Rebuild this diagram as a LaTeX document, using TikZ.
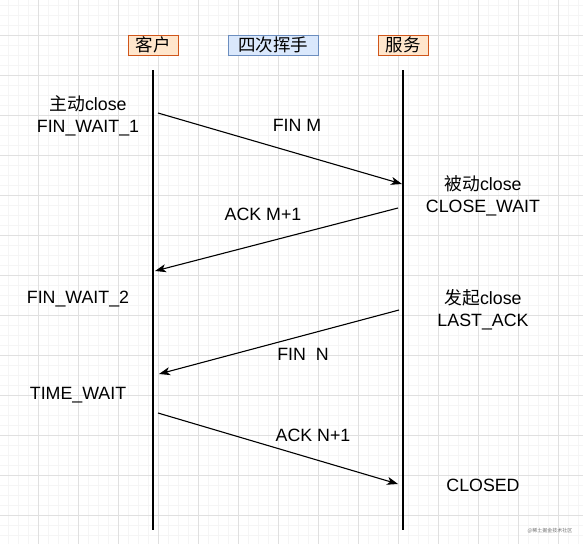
\documentclass[tikz,border=0pt]{standalone}
\usepackage{fontspec}
\setmainfont{Liberation Sans}
\newfontfamily\cjk{Noto Sans CJK SC}
\usetikzlibrary{arrows.meta}
\definecolor{gridmajor}{HTML}{E0E0E0}
\definecolor{gridminor}{HTML}{F5F5F5}
\definecolor{orfill}{HTML}{FFE6CC}
\definecolor{ordraw}{HTML}{D0561B}
\definecolor{blfill}{HTML}{DAE8FC}
\definecolor{bldraw}{HTML}{6C8EBF}
\tikzset{
  txt/.style={font=\fontsize{17.8}{22}\selectfont, align=center, inner sep=0pt},
  hdr/.style={font=\fontsize{17.5}{20}\selectfont\cjk, minimum height=20pt, inner sep=0pt, line width=1pt},
  orbox/.style={hdr, fill=orfill, draw=ordraw, minimum width=50pt},
  blbox/.style={hdr, fill=blfill, draw=bldraw, minimum width=90pt},
  life/.style={line width=2.5pt, black},
  msg/.style={line width=1.1pt, -{Stealth[length=11pt,width=8pt,inset=3pt]}},
}
\begin{document}
\begin{tikzpicture}[x=1pt,y=-1pt]
\useasboundingbox (0,0) rectangle (583,544);
\fill[white] (0,0) rectangle (583,544);
% grid
\foreach \x in {8,18,...,578} \draw[gridminor, line width=0.8pt] (\x,0) -- (\x,544);
\foreach \y in {5,15,...,540} \draw[gridminor, line width=0.8pt] (0,\y) -- (583,\y);
\foreach \x in {38,78,...,578} \draw[gridmajor, line width=1pt] (\x,0) -- (\x,544);
\foreach \y in {35,75,...,540} \draw[gridmajor, line width=1pt] (0,\y) -- (583,\y);
% headers
\node[orbox] (client) at (153,45) {客户};
\node[blbox] (title) at (273,45) {四次挥手};
\node[orbox] (server) at (403,45) {服务};
% lifelines
\coordinate (ctop) at (153,70);
\coordinate (cbot) at (153,530);
\coordinate (stop) at (403,70);
\coordinate (sbot) at (403,530);
\draw[life] (ctop) -- (cbot);
\draw[life] (stop) -- (sbot);
% message endpoints
\coordinate (m1a) at (158,113);
\coordinate (m1b) at (402,184);
\coordinate (m2a) at (398,208);
\coordinate (m2b) at (155,271);
\coordinate (m3a) at (399,310);
\coordinate (m3b) at (159,374);
\coordinate (m4a) at (158,413);
\coordinate (m4b) at (398,484);
\draw[msg] (m1a) -- (m1b);
\draw[msg] (m2a) -- (m2b);
\draw[msg] (m3a) -- (m3b);
\draw[msg] (m4a) -- (m4b);
% message labels
\node[txt] (l1) at (297,125) {FIN M};
\node[txt] (l2) at (263,214) {ACK M+1};
\node[txt] (l3) at (303,354) {FIN\ \ N};
\node[txt] (l4) at (313,435) {ACK N+1};
% state labels
\node[txt] (s1) at (88,116) {{\cjk 主动}close\\FIN\_WAIT\_1};
\node[txt] (s2) at (483,196) {{\cjk 被动}close\\CLOSE\_WAIT};
\node[txt] (s3) at (78,299) {FIN\_WAIT\_2};
\node[txt] (s4) at (483,310) {{\cjk 发起}close\\LAST\_ACK};
\node[txt] (s5) at (78,395) {TIME\_WAIT};
\node[txt] (s6) at (483,485) {CLOSED};
% watermark
\node[font=\fontsize{5}{6}\selectfont\cjk, text=black!55, inner sep=0pt] (wm) at (550,531) {@稀土掘金技术社区};
\end{tikzpicture}
\end{document}
